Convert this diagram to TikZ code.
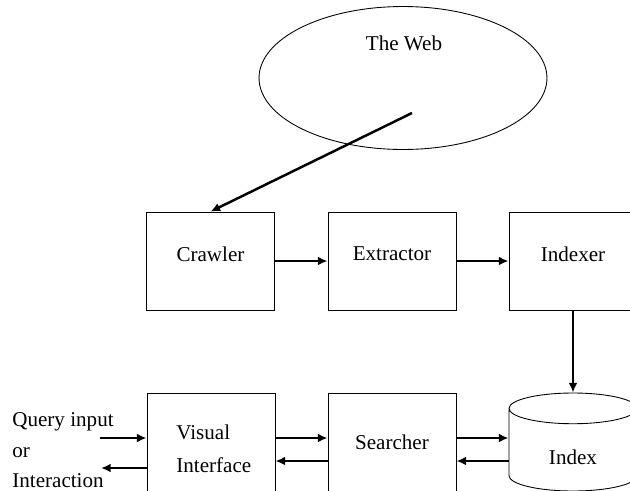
\documentclass[tikz,border=0pt]{standalone}
\usepackage{fontspec}
\setmainfont{Liberation Serif}
\usetikzlibrary{arrows.meta, shapes.geometric}

\begin{document}
\begin{tikzpicture}[x=0.02cm, y=-0.02cm, font=\fontsize{12}{14.5}\selectfont,
    every node/.style={inner sep=0pt},
    box/.style={rectangle, draw, line width=0.5pt, minimum width=2.56cm, minimum height=1.96cm},
    flow/.style={-{Latex[length=5.5pt, width=5pt]}, line width=1.4pt}]
    \useasboundingbox (0,0) rectangle (630,491);

    % the web
    \node[ellipse, draw, line width=0.5pt, minimum width=5.76cm, minimum height=2.86cm] (web) at (403,78) {};
    \node (webtext) at (404,43) {The Web};
    \coordinate (webpt) at (412,113);

    % top row
    \node[box, text depth=0.28cm] (crawl) at (210.5,261) {Crawler};
    \node[box, text depth=0.28cm] (extr) at (392,261) {Extractor};
    \node[box, text depth=0.28cm] (idxr) at (573,261) {Indexer};

    % bottom row
    \node[box] (vis) at (211,442) {};
    \node[anchor=west, align=left] (vistext) at (176,449) {Visual\\[4pt]Interface};
    \node[box] (srch) at (392,442) {Searcher};
    \node[cylinder, draw, line width=0.5pt, shape border rotate=90, aspect=0.24,
          text width=2.56cm, minimum height=1.96cm, anchor=shape center] (idx) at (573,442) {};
    \node (idxtext) at (573,457) {Index};

    % user side
    \node[anchor=west] (qin) at (12,422) {Query input};
    \node[anchor=west] (qor) at (12,453) {or};
    \node[anchor=west] (qact) at (12,481) {Interaction};
    \coordinate (inA) at (100,438);
    \coordinate (outA) at (101,468);
    \coordinate (fwd) at (0,438);
    \coordinate (back) at (0,461);

    \draw[flow] (webpt) -- (crawl.north);
    \draw[flow] (crawl) -- (extr);
    \draw[flow] (extr) -- (idxr);
    \draw[flow] (idxr.south) -- (idxr.south |- idx.north);

    \draw[flow] (inA) -- (vis.west |- inA);
    \draw[flow] (vis.west |- outA) -- (outA);
    \draw[flow] (vis.east |- fwd) -- (srch.west |- fwd);
    \draw[flow] (srch.west |- back) -- (vis.east |- back);
    \draw[flow] (srch.east |- fwd) -- (idx.west |- fwd);
    \draw[flow] (idx.west |- back) -- (srch.east |- back);
\end{tikzpicture}
\end{document}
